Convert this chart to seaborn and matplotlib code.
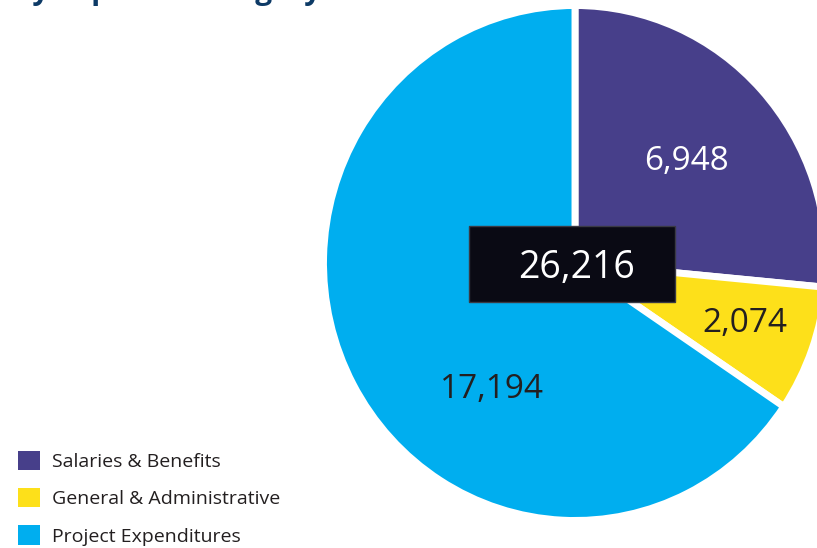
import numpy as np
import matplotlib
matplotlib.use("Agg")
import matplotlib.pyplot as plt
from matplotlib.patches import Patch, Rectangle
import seaborn as sns

categories = ["Salaries & Benefits", "General & Administrative", "Project Expenditures"]
values = [6948, 2074, 17194]
total_label = "26,216"
value_labels = ["6,948", "2,074", "17,194"]
colors = ["#473f8a", "#fde01a", "#00aeef"]
title = "by Expense Category"

sns.set_theme(style="white")
plt.rcParams["font.family"] = ["Open Sans", "DejaVu Sans"]

W, H = 817, 548
fig = plt.figure(figsize=(W / 100, H / 100), dpi=100)

cx, cy, RX, RY = 575, 263, 251.5, 257.5
ax = fig.add_axes([(cx - RX) / W, 1 - (cy + RY) / H, 2 * RX / W, 2 * RY / H])
wedges, _ = ax.pie(values, colors=colors, startangle=90, counterclock=False,
                   radius=1.0, wedgeprops=dict(edgecolor="white", linewidth=5))
ax.set_xlim(-1, 1)
ax.set_ylim(-1, 1)
ax.set_aspect("auto")
ax.axis("off")

def to_data(px, py):
    return (px - cx) / RX, (cy - py) / RY

# label centres (pixel layout)
label_px = [(686, 162), (745, 324), (492, 390)]
label_colors = ["white", "#231f20", "#231f20"]
for lab, (px, py), c in zip(value_labels, label_px, label_colors):
    x, y = to_data(px, py)
    ax.text(x, y, lab, ha="center", va="center", fontsize=24, color=c)

# center total box
x0, y0 = to_data(469, 302)
x1, y1 = to_data(675, 226)
ax.add_patch(Rectangle((x0, y0), x1 - x0, y1 - y0, facecolor="#0a0a14",
                       edgecolor="#3a3a44", linewidth=1, zorder=5))
tx, ty = to_data(577, 268)
ax.text(tx, ty, total_label, ha="center", va="center", fontsize=27,
        color="white", zorder=6)

# partially visible title at the top
fig.text(14 / W, 1 + 1 / H, title, ha="left", va="baseline", fontsize=21.5,
         fontweight="bold", color="#0d3a66")

handles = [Patch(facecolor=c, edgecolor="none") for c in colors]
leg = fig.legend(handles, categories, loc="upper left",
                 bbox_to_anchor=(10 / W, 1 - 443 / H), frameon=False,
                 fontsize=14, handlelength=1.15, handleheight=1.15,
                 handletextpad=0.6, labelspacing=0.88, borderaxespad=0)
for t in leg.get_texts():
    t.set_color("#231f20")

fig.savefig("out.png", dpi=100)
